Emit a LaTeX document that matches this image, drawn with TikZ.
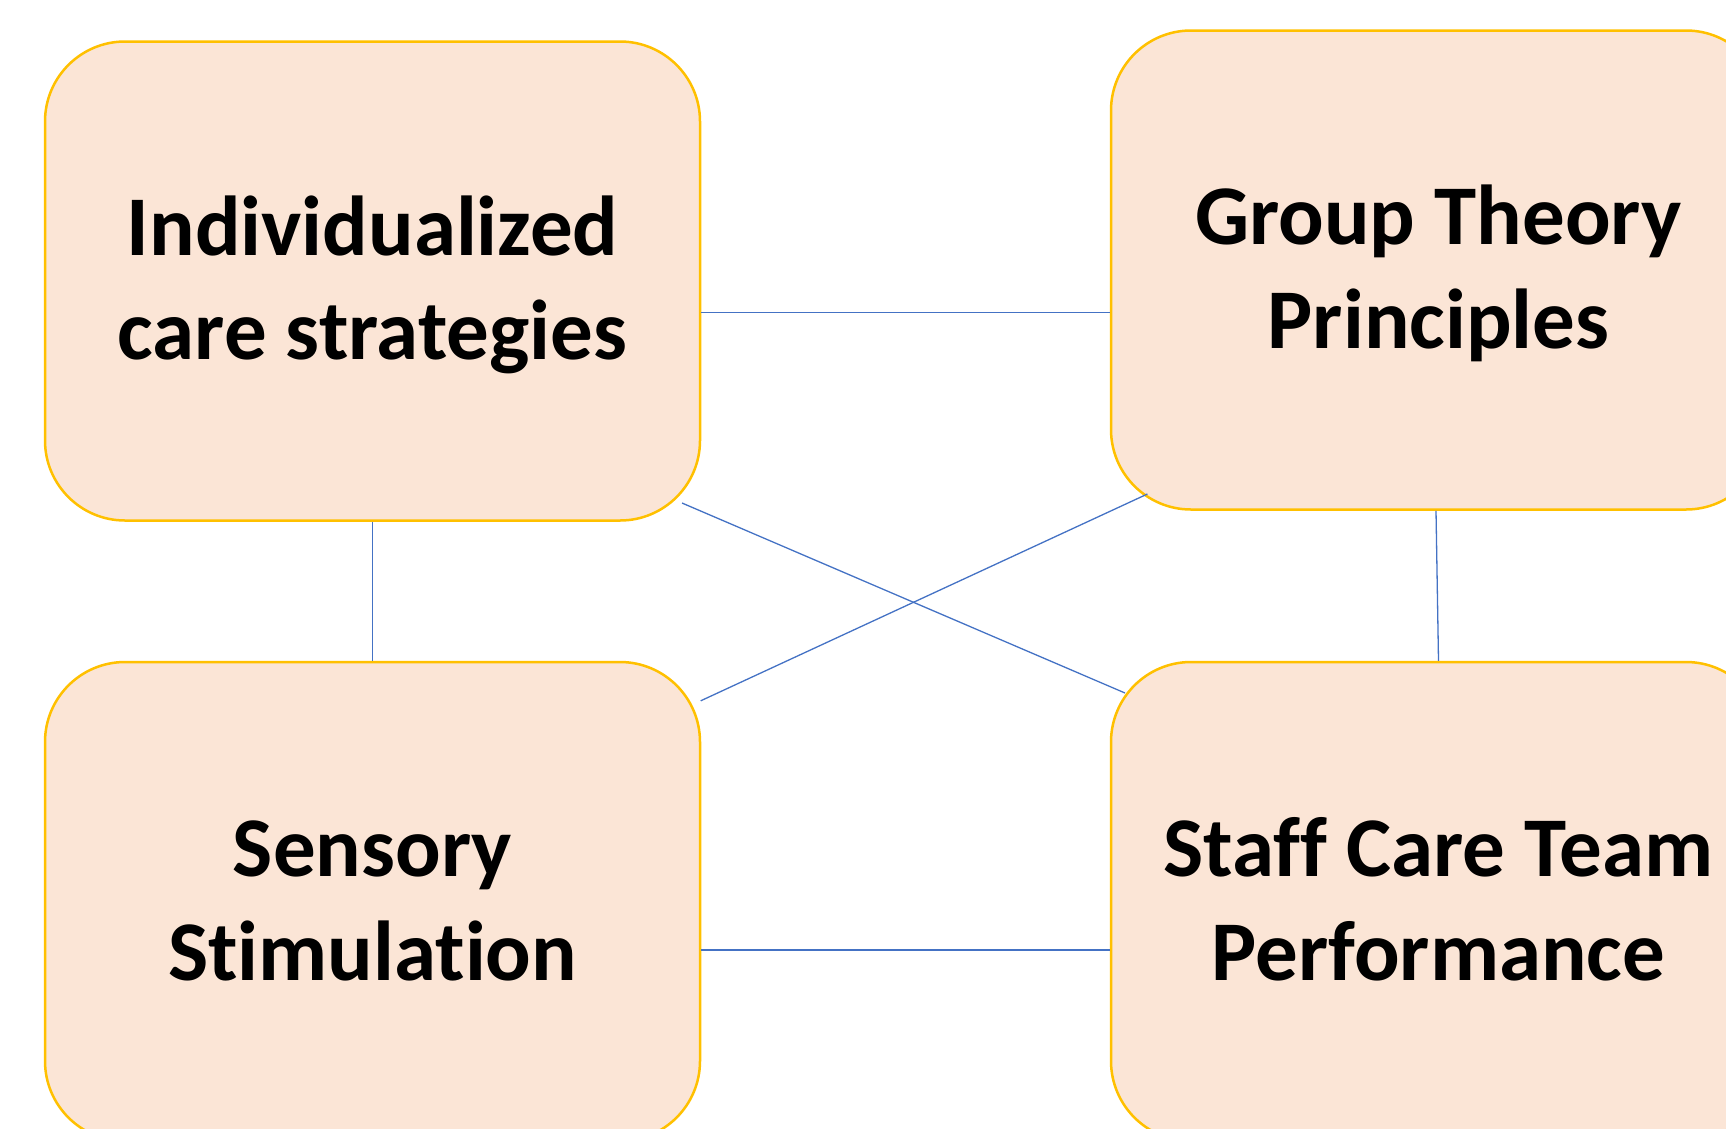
\documentclass[tikz,border=0pt]{standalone}
\usepackage{fontspec}
\setmainfont[Ligatures={NoCommon,NoRare,NoContextual}]{Carlito}
\definecolor{boxline}{HTML}{FFC000}
\definecolor{boxfill}{HTML}{FBE5D6}
\definecolor{linkblue}{HTML}{4472C4}
\begin{document}
\begin{tikzpicture}[x=1pt,y=-1pt,
  box/.style={draw=boxline, fill=boxfill, line width=2.5pt, rounded corners=80pt,
    minimum width=655pt, minimum height=479pt, inner sep=0pt},
  boxtext/.style={inner sep=0pt, align=center,
    font=\fontsize{85}{103.7}\selectfont\bfseries},
  link/.style={draw=linkblue, line width=1.3pt}]
\useasboundingbox (0,0) rectangle (1726,1128);
\clip (0,0) rectangle (1726,1128);
\node[box] (b1) at (372.5,281) {};
\node[box] (b2) at (1438.5,270) {};
\node[box] (b3) at (372.5,901.5) {};
\node[box] (b4) at (1438.5,901.5) {};
\node[boxtext] (t1) at ([yshift=-6pt]b1.center) {\strut Individualized\\\strut care strategies};
\node[boxtext] (t2) at ([yshift=-6pt]b2.center) {\strut Group Theory\\\strut Principles};
\node[boxtext] (t3) at ([yshift=-6pt]b3.center) {\strut Sensory\\\strut Stimulation};
\node[boxtext] (t4) at ([yshift=-6pt]b4.center) {\strut Staff Care Team\\\strut Performance};
\coordinate (d1s) at (682,503);
\coordinate (d1e) at (1125,693);
\coordinate (d2s) at (700.7,700.8);
\coordinate (d2e) at (1147.4,494);
\draw[link] (b1.east |- 0,312.5) -- (b2.west |- 0,312.5);
\draw[link] (b1.south) -- (b3.north);
\draw[link] (b2.south -| 1436,0) -- (b4.north);
\draw[link] (b3.east |- 0,950) -- (b4.west |- 0,950);
\draw[link] (d1s) -- (d1e);
\draw[link] (d2s) -- (d2e);
\end{tikzpicture}
\end{document}
